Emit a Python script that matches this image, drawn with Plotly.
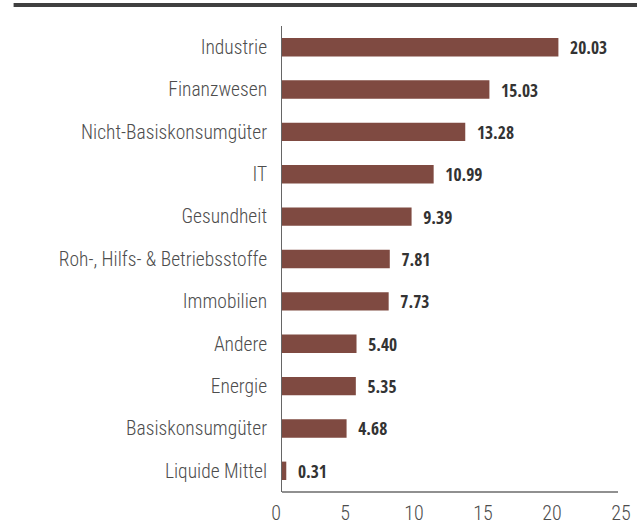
import plotly.graph_objects as go

categories = ["Industrie", "Finanzwesen", "Nicht-Basiskonsumgüter", "IT", "Gesundheit",
              "Roh-, Hilfs- & Betriebsstoffe", "Immobilien", "Andere", "Energie",
              "Basiskonsumgüter", "Liquide Mittel"]
values = [20.03, 15.03, 13.28, 10.99, 9.39, 7.81, 7.73, 5.40, 5.35, 4.68, 0.31]
tick_values = [0, 5, 10, 15, 20, 25]

LABEL_FONT = "Roboto Condensed, Open Sans Condensed Light, sans-serif"
VALUE_FONT = "Open Sans Condensed, Roboto Condensed, sans-serif"

fig = go.Figure()
fig.add_trace(go.Bar(
    x=values, y=categories, orientation="h",
    marker=dict(color="#7f4a41", line=dict(width=0)),
    text=[f"{v:.2f}" for v in values],
    texttemplate="  %{text}",
    textposition="outside",
    constraintext="none",
    cliponaxis=False,
    textfont=dict(family=VALUE_FONT, size=17.5, color="#333333", weight=700),
    hoverinfo="skip",
))

fig.update_layout(
    width=643, height=532,
    margin=dict(l=282, r=16, t=26, b=40),
    paper_bgcolor="white", plot_bgcolor="white",
    showlegend=False,
    bargap=0.565,
    font=dict(family=LABEL_FONT, color="#505050", weight=300),
    xaxis=dict(range=[0, 25], tickvals=tick_values, showgrid=False, zeroline=False,
               showline=False, ticks="", ticklabelshift=-6, ticklabelstandoff=7,
               automargin=False,
               tickfont=dict(family=LABEL_FONT, size=20, color="#4d4d4d", weight=300)),
    yaxis=dict(autorange="reversed", showgrid=False, zeroline=False,
               showline=True, linecolor="#666666", linewidth=1, ticks="",
               ticklabelstandoff=10, automargin=False,
               tickfont=dict(family=LABEL_FONT, size=19.5, color="#4d4d4d", weight=300)),
    shapes=[
        dict(type="line", xref="paper", yref="paper", x0=0, x1=0.974, y0=0, y1=0,
             line=dict(color="#6b6b6b", width=1.5)),
        dict(type="line", xref="paper", yref="paper", x0=-0.778, x1=1.029, y0=1.045, y1=1.045,
             line=dict(color="#404040", width=4)),
    ],
)

fig.write_html("out.html")
